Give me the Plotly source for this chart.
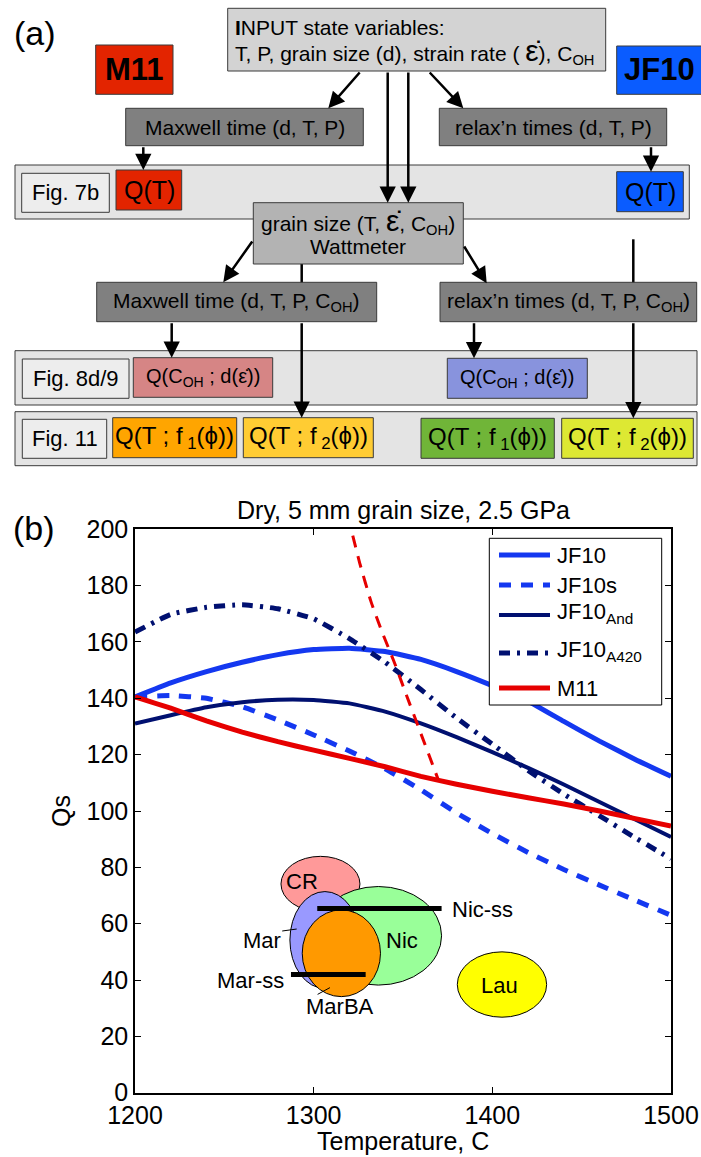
import plotly.graph_objects as go

W, H = 701, 1157
FONT = "Liberation Sans, Arial, Helvetica, sans-serif"

# ---------------- panel (b): Qs versus temperature ----------------
temp_c = [1200, 1220, 1240, 1260, 1280, 1300, 1320, 1340, 1360, 1380, 1400, 1420, 1440, 1460, 1480, 1500]
q_jf10 = [140.5, 145.5, 149.5, 152.8, 155.5, 157.3, 157.8, 156.6, 153.8, 149.5, 144.5, 139, 131.8, 124.8, 118.3, 112.3]
q_jf10s = [140.5, 141, 140, 137, 132.3, 127, 121.3, 115, 107.5, 99.3, 92, 85.3, 79.2, 73.7, 68.3, 63]
q_jf10_and = [131, 134, 136.8, 138.6, 139.5, 139.4, 138.2, 135.3, 131.1, 126.2, 120.9, 115.3, 109.4, 103.2, 97, 90.8]
q_jf10_a420 = [163.5, 169.8, 172.3, 173.2, 171.8, 168.2, 161.2, 152.8, 143.1, 133, 123.7, 114.4, 106, 98.3, 90.5, 83]
q_m11 = [140.5, 136.5, 132, 128, 124.6, 121.6, 118.7, 115.7, 112.3, 109.5, 107, 104.7, 102.5, 100, 97.3, 94.7]

# steep M11 branch (dashed red)
temp_m11_branch = [1319, 1326, 1332, 1338, 1345, 1352, 1360, 1369.5]
q_m11_branch = [205, 187.5, 174.5, 164, 153, 141, 127.5, 111.5]

series_names = ["JF10", "JF10s", "JF10<sub>And</sub>", "JF10<sub>A420</sub>", "M11"]
series_values = [q_jf10, q_jf10s, q_jf10_and, q_jf10_a420, q_m11]
series_colors = ["#1438F0", "#1438F0", "#001070", "#001070", "#E60000"]
series_dash = ["solid", "12px,10px", "solid", "11px,7px,3px,7px", "solid"]
series_width = [5, 5, 4, 5, 5]

# seismic observations: ellipse centre (T, Qs) and half-widths
obs_names = ["CR", "Nic", "Mar", "MarBA", "Lau"]
obs_t = [1303.8, 1336.2, 1306.3, 1315.5, 1405.4]
obs_q = [74.1, 55.7, 54.2, 49.5, 38.4]
obs_dt = [22.1, 35.4, 19.6, 21.9, 25.0]
obs_dq = [9.8, 17.5, 17.2, 15.4, 11.6]
obs_fill = ["#FF9999", "#99FF99", "#9999FF", "#FF9900", "#FFFF00"]

# single-station estimates (horizontal bars)
ss_names = ["Nic-ss", "Mar-ss"]
ss_t0 = [1302, 1287.3]
ss_t1 = [1371.6, 1329.1]
ss_q = [65.4, 42.0]

x_ticks = [1200, 1300, 1400, 1500]
y_ticks = list(range(0, 201, 20))

# plot area placement (px in the 701 x 1157 page)
AX_L, AX_R, AX_T, AX_B = 135, 671, 529.3, 1092.7


def fx(x):
    return x / W


def fy(y):
    return 1 - y / H


fig = go.Figure()

for name, vals, col, dash, lw in zip(series_names, series_values, series_colors, series_dash, series_width):
    fig.add_trace(go.Scatter(x=temp_c, y=vals, mode="lines", name=name, showlegend=False,
                             line=dict(color=col, dash=dash, width=lw, shape="spline", smoothing=0.4)))

fig.add_trace(go.Scatter(x=temp_m11_branch, y=q_m11_branch, mode="lines", showlegend=False,
                         line=dict(color="#E60000", dash="12px,9px", width=3, shape="spline", smoothing=0.4)))

for t0, t1, q in zip(ss_t0, ss_t1, ss_q):
    fig.add_trace(go.Scatter(x=[t0, t1], y=[q, q], mode="lines", showlegend=False,
                             line=dict(color="black", width=5)))

# leader lines for Mar and MarBA labels
fig.add_trace(go.Scatter(x=[1282.4, 1290.5], y=[57.4, 58.1], mode="lines", showlegend=False,
                         line=dict(color="black", width=1)))
fig.add_trace(go.Scatter(x=[1302.2, 1309.1], y=[34.9, 37.3], mode="lines", showlegend=False,
                         line=dict(color="black", width=1)))

shapes = []
annotations = []

for t, q, dt, dq, col in zip(obs_t, obs_q, obs_dt, obs_dq, obs_fill):
    shapes.append(dict(type="circle", xref="x", yref="y", x0=t - dt, x1=t + dt, y0=q - dq, y1=q + dq,
                       fillcolor=col, line=dict(color="black", width=1), layer="below"))


def label_data(t, q, s, size=22, xanchor="center"):
    annotations.append(dict(xref="x", yref="y", x=t, y=q, text=s, showarrow=False, xanchor=xanchor,
                            yanchor="middle", font=dict(size=size, family=FONT, color="black")))


label_data(1293.3, 74.9, "CR")
label_data(1349.2, 53.9, "Nic")
label_data(1404.0, 38.2, "Lau")
label_data(1283.0, 54.2, "Mar", xanchor="right")
label_data(1314.7, 30.5, "MarBA")
label_data(1284.5, 40.0, ss_names[1], xanchor="right")
label_data(1376.3, 65.1, ss_names[0], xanchor="left")


def rect(x0, y0, x1, y1, fill, line="#3A3A3A", lw=1):
    shapes.append(dict(type="rect", xref="paper", yref="paper", x0=fx(x0), x1=fx(x1), y0=fy(y1), y1=fy(y0),
                       fillcolor=fill, line=dict(color=line, width=lw), layer="above"))


def seg(x0, y0, x1, y1, color="black", width=2.5, dash="solid"):
    shapes.append(dict(type="line", xref="paper", yref="paper", x0=fx(x0), x1=fx(x1), y0=fy(y0), y1=fy(y1),
                       line=dict(color=color, width=width, dash=dash), layer="above"))


def text(x, y, s, size=21, xanchor="center", angle=0):
    annotations.append(dict(xref="paper", yref="paper", x=fx(x), y=fy(y), text=s, showarrow=False,
                            xanchor=xanchor, yanchor="middle", textangle=angle,
                            font=dict(size=size, family=FONT, color="black")))


def arrow(x0, y0, x1, y1):
    annotations.append(dict(xref="paper", yref="paper", x=fx(x1), y=fy(y1), ax=x0 - x1, ay=y0 - y1,
                            axref="pixel", ayref="pixel", text="", showarrow=True, arrowhead=2,
                            arrowsize=1.3, arrowwidth=2.5, arrowcolor="black", standoff=0))


# manual legend box
rect(489.3, 538.3, 661.7, 705, "white", line="black", lw=1)
leg_y = [555, 585, 615, 653, 688]
leg_text_y = [555, 585, 613, 651, 688]
for name, col, dash, lw, yl, yt in zip(series_names, series_colors, series_dash, series_width, leg_y, leg_text_y):
    seg(499, yl, 550, yl, color=col, width=lw, dash=dash)
    text(555, yt, name, size=22, xanchor="left")

# titles and panel letters
text(403, 510, "Dry, 5 mm grain size, 2.5 GPa", size=25)
text(403, 1141, "Temperature, C", size=25)
text(61, 811, "Qs", size=25, angle=-90)
text(35, 33, "(a)", size=34)
text(34, 528, "(b)", size=34)

# ---------------- panel (a): flow chart ----------------
EPS = "<span style='font-size:30px'>ε̇</span>"
EPS_S = "ε̇"
DARK = "#808080"
RED = "#E32400"
BLUE = "#0A5CFF"

# figure bands
rect(15, 165, 689.3, 219, "#E4E4E4")
rect(15, 350.7, 697, 405, "#E4E4E4")
rect(15, 411.7, 697, 465.7, "#E4E4E4")

# connector segments that run underneath boxes
seg(301.7, 262, 301.7, 284)
seg(633.3, 239.3, 633.3, 284)

rect(227.7, 8.3, 605.7, 71, "#D3D3D3")
rect(95.7, 45, 173, 94.3, RED)
rect(616.7, 46, 712, 94.3, BLUE)
rect(125.7, 108.3, 363.3, 145.7, DARK)
rect(439.3, 108.3, 666.7, 145.7, DARK)
rect(21.7, 173.3, 109.3, 212.3, "#EDEDED")
rect(116, 170, 181.7, 210, RED)
rect(616.7, 171.7, 683.3, 211.7, BLUE)
rect(253.3, 202.7, 463.3, 264, "#B3B3B3")
rect(96.7, 282.3, 376.7, 321.7, DARK)
rect(440, 282.3, 696.7, 321.7, DARK)
rect(22.3, 359, 129, 398.3, "#EDEDED")
rect(133.3, 357.7, 272.7, 397.3, "#D68585")
rect(447.3, 358.3, 587.3, 398.3, "#8893DD")
rect(22.3, 419.3, 106.7, 458.3, "#EDEDED")
rect(112.7, 417.7, 236.7, 457.7, "#FFA500")
rect(243.3, 417.7, 373.3, 457.7, "#FFCC33")
rect(421, 418.3, 554.3, 458.3, "#70B538")
rect(561.7, 418.3, 693.3, 458.3, "#DDE833")

text(233, 28, "<b>I</b>NPUT state variables:", xanchor="left")
text(233, 51, "T, P, grain size (d), strain rate ( " + EPS + "), C<sub>OH</sub>", xanchor="left")
text(134.3, 70, "<b>M11</b>", size=31)
text(622, 70, "<b>JF10</b>", size=31, xanchor="left")
text(244.5, 127, "Maxwell time (d, T, P)")
text(553, 127, "relax’n times (d, T, P)")
text(65.5, 193, "Fig. 7b", size=22)
text(149, 190, "Q(T)", size=25)
text(650, 191.7, "Q(T)", size=25)
text(358.3, 221, "grain size (T, " + EPS + ", C<sub>OH</sub>)")
text(358.3, 246.7, "Wattmeter")
text(236.7, 302, "Maxwell time (d, T, P, C<sub>OH</sub>)")
text(568.3, 302, "relax’n times (d, T, P, C<sub>OH</sub>)")
text(75.7, 378.7, "Fig. 8d/9", size=22)
text(203, 377.5, "Q(C<sub>OH</sub> ; d(" + EPS_S + "))", size=20)
text(517.3, 378.3, "Q(C<sub>OH</sub> ; d(" + EPS_S + "))", size=20)
text(64.5, 438.8, "Fig. 11", size=22)
text(174.7, 437.7, "Q(T ; f<sub> 1</sub>(ϕ))", size=24)
text(308.3, 437.7, "Q(T ; f<sub> 2</sub>(ϕ))", size=24)
text(487.7, 438.3, "Q(T ; f<sub> 1</sub>(ϕ))", size=24)
text(627.5, 438.3, "Q(T ; f<sub> 2</sub>(ϕ))", size=24)

arrow(361, 71, 328.3, 108.3)
arrow(428.3, 71, 463.3, 108.3)
arrow(387.7, 71, 387.7, 202.7)
arrow(408.3, 71, 408.3, 202.7)
arrow(143.3, 145.7, 143.3, 170)
arrow(651, 145.7, 651, 171.7)
arrow(253.3, 240, 223.3, 282.3)
arrow(463.3, 245, 486.7, 283.3)
arrow(171.7, 321.7, 171.7, 357.7)
arrow(474, 321.7, 474, 358.3)
arrow(301.7, 321.7, 301.7, 417.7)
arrow(633.3, 321.7, 633.3, 418.3)

axis_common = dict(showgrid=False, zeroline=False, showline=True, linecolor="black", linewidth=1.5,
                   mirror="ticks", ticks="inside", ticklen=6, tickwidth=1, tickcolor="black",
                   automargin=False,
                   tickfont=dict(size=25, family=FONT, color="black"))

fig.update_layout(
    template="none",
    width=W, height=H,
    margin=dict(l=0, r=0, t=0, b=0, pad=0, autoexpand=False),
    paper_bgcolor="white", plot_bgcolor="white",
    showlegend=False,
    xaxis=dict(domain=[fx(AX_L), fx(AX_R)], range=[1200, 1500], tickvals=x_ticks, **axis_common),
    yaxis=dict(domain=[fy(AX_B), fy(AX_T)], range=[0, 200], tickvals=y_ticks, **axis_common),
    shapes=shapes,
    annotations=annotations,
    font=dict(family=FONT, color="black"),
)

fig.write_html("out.html")
